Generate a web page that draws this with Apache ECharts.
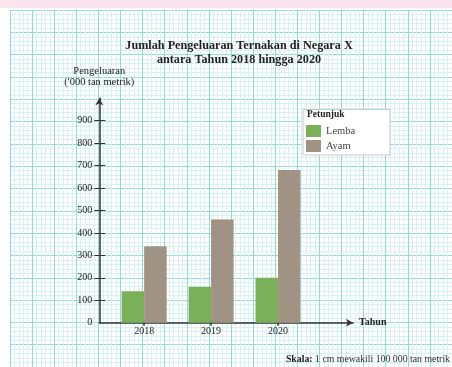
<!DOCTYPE html>
<html>
<head>
<meta charset="utf-8">
<script src="https://cdn.jsdelivr.net/npm/echarts@6/dist/echarts.min.js"></script>
<style>
html,body{margin:0;padding:0;background:#fff;}
#c{width:452px;height:367px;}
</style>
</head>
<body>
<div id="c"></div>
<script>
const years = [2018, 2019, 2020];
const lembaValues = [140, 160, 200];
const ayamValues = [340, 460, 680];
const yTickValues = [0, 100, 200, 300, 400, 500, 600, 700, 800, 900];
const titleLines = ['Jumlah Pengeluaran Ternakan di Negara X', 'antara Tahun 2018 hingga 2020'];
const seriesNames = ['Lemba', 'Ayam'];

const SERIF = '"Liberation Serif", "DejaVu Serif", serif';
const AXIS_COLOR = '#333';
const chart = echarts.init(document.getElementById('c'), null, {renderer: 'canvas'});

const paperAxis = (max) => ({
  type: 'value', gridIndex: 1, min: 0, max: max, interval: 1,
  axisLine: {show: false}, axisTick: {show: false}, axisLabel: {show: false},
  splitLine: {show: true, lineStyle: {color: '#94d9d9', width: 1}},
  minorTick: {show: false, splitNumber: 5},
  minorSplitLine: {show: true, lineStyle: {color: '#d8f2f2', width: 1}},
  silent: true
});

const option = {
  backgroundColor: '#fff',
  animation: false,
  title: {
    text: titleLines.join('\n'),
    left: 234, top: 34, textAlign: 'center',
    textStyle: {fontFamily: SERIF, fontSize: 12.2, fontWeight: 'bold', color: '#222', lineHeight: 14}
  },
  legend: {
    orient: 'vertical', left: 303, top: 122, z: 10,
    data: seriesNames,
    icon: 'rect', itemWidth: 15, itemHeight: 12, itemGap: 3,
    padding: [3, 3, 3, 3],
    textStyle: {fontFamily: SERIF, fontSize: 10.5, color: '#444'}
  },
  graphic: [
    {type: 'rect', shape: {x: 0, y: 0, width: 452, height: 8}, style: {fill: '#fbe4ee'}, z: 5, silent: true},
    {type: 'rect', shape: {x: 303, y: 109.5, width: 87, height: 45.5}, style: {fill: '#fff', stroke: '#c8c8c8', lineWidth: 1}, z: 5, silent: true},
    {type: 'text', left: 307, top: 110, z: 6, style: {text: 'Petunjuk', font: 'bold 9.5px ' + SERIF, fill: '#222'}},
    {type: 'text', right: 2, top: 354, z: 6, style: {
      text: '{b|Skala:} 1 cm mewakili 100 000 tan metrik',
      font: '9.8px ' + SERIF, fill: '#333',
      rich: {b: {fontWeight: 'bold', fontFamily: SERIF, fontSize: 9.8, fill: '#222'}}
    }}
  ],
  grid: [
    {left: 99.3, top: 98.2, right: 452 - 353, bottom: 367 - 322.7},
    {left: 10, top: 10, width: 450, height: 360, z: 0}
  ],
  xAxis: [
    {
      type: 'value', gridIndex: 0, position: 'bottom', min: 2017.33, max: 2021.12,
      name: 'Tahun', nameLocation: 'end', nameGap: 6,
      nameTextStyle: {fontFamily: SERIF, fontSize: 10, fontWeight: 'bold', color: '#222'},
      axisLine: {show: true, onZero: false, symbol: ['none', 'arrow'], symbolSize: [6, 7], lineStyle: {color: AXIS_COLOR, width: 1.5}},
      axisTick: {show: true, length: 3, inside: false, customValues: years, lineStyle: {color: AXIS_COLOR, width: 1.5}},
      axisLabel: {show: true, customValues: years, margin: 4, formatter: (v) => String(Math.round(v)),
        fontFamily: SERIF, fontSize: 10, color: '#222'},
      splitLine: {show: false}
    },
    {
      type: 'value', gridIndex: 0, position: 'bottom', min: 2017.33, max: 2021.12,
      axisLine: {show: false},
      axisTick: {show: true, length: 3, inside: true, customValues: years, lineStyle: {color: AXIS_COLOR, width: 1.5}},
      axisLabel: {show: false}, splitLine: {show: false}
    },
    paperAxis(20)
  ],
  yAxis: [
    {
      type: 'value', gridIndex: 0, position: 'left', min: 0, max: 1000,
      name: "Pengeluaran\n('000 tan metrik)", nameLocation: 'end', nameGap: 10,
      nameTextStyle: {fontFamily: SERIF, fontSize: 10.5, color: '#222', lineHeight: 11, align: 'center'},
      axisLine: {show: true, onZero: false, symbol: ['none', 'arrow'], symbolSize: [6, 7], lineStyle: {color: AXIS_COLOR, width: 1.5}},
      axisTick: {show: true, length: 5, customValues: yTickValues.filter(v => v > 0), lineStyle: {color: AXIS_COLOR, width: 1}},
      axisLabel: {show: true, customValues: yTickValues, margin: 7, fontFamily: SERIF, fontSize: 10, color: '#222'},
      splitLine: {show: false}
    },
    {
      type: 'value', gridIndex: 0, position: 'left', min: 0, max: 1000,
      axisLine: {show: false},
      axisTick: {show: true, length: 6, inside: true, customValues: yTickValues.filter(v => v > 0), lineStyle: {color: AXIS_COLOR, width: 1}},
      axisLabel: {show: false}, splitLine: {show: false}
    },
    paperAxis(16)
  ],
  series: [
    {
      name: seriesNames[0], type: 'bar', xAxisIndex: 0, yAxisIndex: 0,
      barWidth: 22.5, barGap: '0%', z: 3,
      itemStyle: {color: '#7bb05a'},
      data: years.map((y, i) => [y, lembaValues[i]])
    },
    {
      name: seriesNames[1], type: 'bar', xAxisIndex: 0, yAxisIndex: 0,
      barWidth: 22.5, barGap: '0%', z: 3,
      itemStyle: {color: '#a09383'},
      data: years.map((y, i) => [y, ayamValues[i]])
    }
  ]
};
chart.setOption(option);
</script>
</body>
</html>
